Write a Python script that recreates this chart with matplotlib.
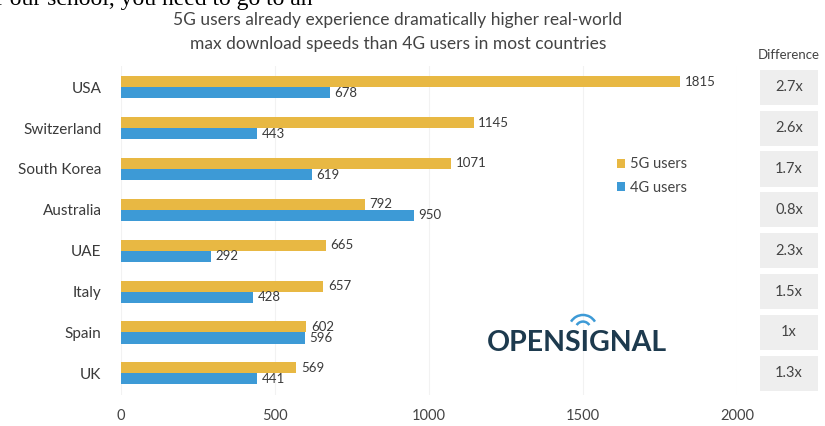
import matplotlib.pyplot as plt
import matplotlib.transforms as mtransforms
from matplotlib.patches import Rectangle, Arc
import numpy as np

countries = ["USA", "Switzerland", "South Korea", "Australia", "UAE", "Italy", "Spain", "UK"]
speed_5g = [1815, 1145, 1071, 792, 665, 657, 602, 569]
speed_4g = [678, 443, 619, 950, 292, 428, 596, 441]
difference = ["2.7x", "2.6x", "1.7x", "0.8x", "2.3x", "1.5x", "1x", "1.3x"]
xticks = [0, 500, 1000, 1500, 2000]

COL_5G = '#e8b843'
COL_4G = '#3d9ad6'
TXT = '#3a3a3a'

plt.rcParams['font.family'] = ['Lato', 'DejaVu Sans']

fig = plt.figure(figsize=(8.25, 4.26), dpi=100)
ax = fig.add_axes([121 / 825, 1 - 395 / 426, (737 - 121) / 825, (395 - 66) / 426])

y = np.arange(len(countries))
h = 0.27
ax.barh(y - h / 2, speed_5g, height=h, color=COL_5G, label='5G users', zorder=2)
ax.barh(y + h / 2, speed_4g, height=h, color=COL_4G, label='4G users', zorder=2)

for i in range(len(countries)):
    ax.text(speed_5g[i] + 15, y[i] - h / 2, str(speed_5g[i]), va='center', ha='left',
            fontsize=9.5, color=TXT)
    ax.text(speed_4g[i] + 15, y[i] + h / 2, str(speed_4g[i]), va='center', ha='left',
            fontsize=9.5, color=TXT)

ax.set_xlim(0, 2000)
ax.set_ylim(len(countries) - 0.47, -0.52)
ax.set_yticks(y)
ax.set_yticklabels(countries, fontsize=11, color=TXT)
ax.set_xticks(xticks)
ax.set_xticklabels([str(t) for t in xticks], fontsize=10.5, color='#444444')
ax.tick_params(length=0, pad=14, axis='y')
ax.tick_params(length=0, pad=10, axis='x')
for s in ax.spines.values():
    s.set_visible(False)
ax.grid(axis='x', color='#f2f2f2', linewidth=0.8, zorder=0)

# legend
leg = ax.legend(loc='upper left', bbox_to_anchor=(0.795, 0.74), frameon=False,
                fontsize=10.5, handlelength=0.6, handleheight=0.6, handletextpad=0.3,
                labelspacing=0.65, borderaxespad=0)
for t in leg.get_texts():
    t.set_color('#444444')

# difference column
trans = mtransforms.blended_transform_factory(fig.transFigure, ax.transData)
bx0, bx1 = 760 / 825, 818 / 825
for i, d in enumerate(difference):
    ax.add_patch(Rectangle((bx0, i - 0.43), bx1 - bx0, 0.86, transform=trans,
                           facecolor='#eeeeee', edgecolor='none', clip_on=False))
    ax.text((bx0 + bx1) / 2, i, d, transform=trans, ha='center', va='center',
            fontsize=10.5, color='#444444', clip_on=False)
fig.text(789 / 825, 1 - 55 / 426, "Difference", ha='center', va='center',
         fontsize=9.5, color='#444444')

# title
fig.text(398 / 825, 1 - 32 / 426,
         "5G users already experience dramatically higher real-world\n"
         "max download speeds than 4G users in most countries",
         ha='center', va='center', fontsize=12.5, color='#444444', linespacing=1.55)

# clipped text from the page above the chart
fig.text(-0.005, 1 + 1 / 426, "r our school, you need to go to an",
         ha='left', va='center', fontsize=17, color='black',
         family=['Liberation Serif', 'DejaVu Serif'])

# logo
fig.text(577 / 825, 1 - 343 / 426, "OPENSIGNAL", ha='center', va='center',
         fontsize=20.5, fontweight='bold', color='#1d3a4e')
lx, ly = 583 / 825, 1 - 329 / 426
for r in [0.009, 0.017]:
    fig.add_artist(Arc((lx, ly), r * 2, r * 2 * 825 / 426, theta1=50, theta2=130,
                       transform=fig.transFigure, color='#3d9ad6', linewidth=1.8))

fig.savefig('out.png', dpi=100)
